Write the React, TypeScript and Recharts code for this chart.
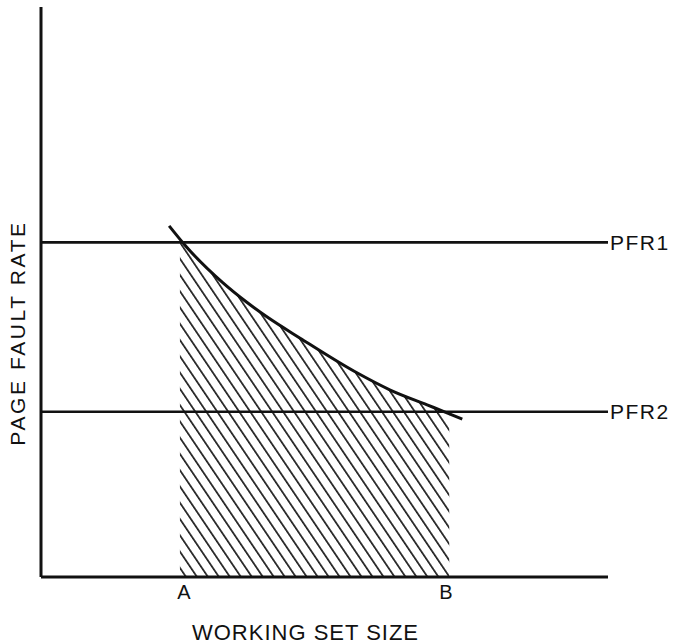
import React from "react";
import {
  ComposedChart,
  Line,
  Area,
  XAxis,
  YAxis,
  ReferenceLine,
  Label,
} from "recharts";

// Working set curve (x: working set size, y: page fault rate)
const curveX = [22.6, 25.4, 32.1, 36.3, 39.9, 45.7, 55.4, 61.6, 68.1, 71.6, 74.3];
const curveY = [61.6, 58.2, 51.6, 48.2, 45.6, 41.9, 36.0, 32.8, 30.2, 28.8, 27.7];

// Hatched region between A and B, bounded above by the curve
const hatchX = [24.5, 25.4, 32.1, 36.3, 39.9, 45.7, 55.4, 61.6, 68.1, 71.6, 72.0];
const hatchY = [59.2, 58.2, 51.6, 48.2, 45.6, 41.9, 36.0, 32.8, 30.2, 28.8, 28.6];

// Threshold levels
const pfrLevels = [58.7, 29.0];
const pfrLabels = ["PFR1", "PFR2"];

// X tick marks
const tickValues = [25.2, 71.4];
const tickLabels = ["A", "B"];

const xTitle = "WORKING SET SIZE";
const yTitle = "PAGE FAULT RATE";

const curveData = curveX.map((x, i) => ({ x, y: curveY[i] }));
const hatchData = hatchX.map((x, i) => ({ x, y: hatchY[i] }));

const FONT = "'Liberation Sans', Arial, Helvetica, sans-serif";
const INK = "#111";

const XTick = (props: any) => {
  const { x, y, payload } = props;
  const idx = tickValues.indexOf(payload.value);
  return (
    <text
      x={x}
      y={y}
      dy={13.5}
      textAnchor="middle"
      fontFamily={FONT}
      fontSize={20}
      fill={INK}
    >
      {idx >= 0 ? tickLabels[idx] : ""}
    </text>
  );
};

export default function App() {
  return (
    <div style={{ position: "absolute", left: 0, top: 0 }}>
      <ComposedChart
        width={676}
        height={644}
        margin={{ top: 7, right: 68, bottom: 37, left: 40 }}
      >
        <defs>
          <pattern
            id="hatch"
            patternUnits="userSpaceOnUse"
            width={9.1}
            height={10}
            patternTransform="rotate(-34)"
          >
            <line x1={4.5} y1={-1} x2={4.5} y2={11} stroke={INK} strokeWidth={1.6} />
          </pattern>
        </defs>
        <XAxis
          type="number"
          dataKey="x"
          domain={[0, 100]}
          ticks={tickValues}
          tick={<XTick />}
          tickLine={false}
          axisLine={{ stroke: INK, strokeWidth: 3 }}
          height={30}
          allowDataOverflow
        >
          <Label
            content={(p: any) => {
              const vb = p.viewBox;
              return (
                <text
                  x={vb.x + vb.width / 2 - 19}
                  y={640}
                  textAnchor="middle"
                  fontFamily={FONT}
                  fontSize={22}
                  letterSpacing={1}
                  fill={INK}
                >
                  {xTitle}
                </text>
              );
            }}
          />
        </XAxis>
        <YAxis
          type="number"
          domain={[0, 100]}
          width={1}
          tick={false}
          tickLine={false}
          axisLine={{ stroke: INK, strokeWidth: 3 }}
          allowDataOverflow
        >
          <Label
            content={(p: any) => {
              const vb = p.viewBox;
              const cx = vb.x - 15;
              const cy = vb.y + vb.height / 2 + 41;
              return (
                <text
                  x={cx}
                  y={cy}
                  transform={`rotate(-90, ${cx}, ${cy})`}
                  textAnchor="middle"
                  fontFamily={FONT}
                  fontSize={21}
                  letterSpacing={2.6}
                  fill={INK}
                >
                  {yTitle}
                </text>
              );
            }}
          />
        </YAxis>
        <Area
          data={hatchData}
          dataKey="y"
          type="monotone"
          stroke="none"
          fill="url(#hatch)"
          fillOpacity={1}
          baseValue={0}
          isAnimationActive={false}
          activeDot={false}
          dot={false}
        />
        {pfrLevels.map((v, i) => (
          <ReferenceLine
            key={pfrLabels[i]}
            y={v}
            stroke={INK}
            strokeWidth={2.6}
            label={(p: any) => {
              const vb = p.viewBox;
              return (
                <text
                  x={vb.x + vb.width + 2}
                  y={vb.y + 7.5}
                  fontFamily={FONT}
                  fontSize={21}
                  letterSpacing={1.5}
                  fill={INK}
                >
                  {pfrLabels[i]}
                </text>
              );
            }}
          />
        ))}
        <Line
          data={curveData}
          dataKey="y"
          type="monotone"
          stroke={INK}
          strokeWidth={3}
          dot={false}
          activeDot={false}
          isAnimationActive={false}
        />
      </ComposedChart>
    </div>
  );
}
